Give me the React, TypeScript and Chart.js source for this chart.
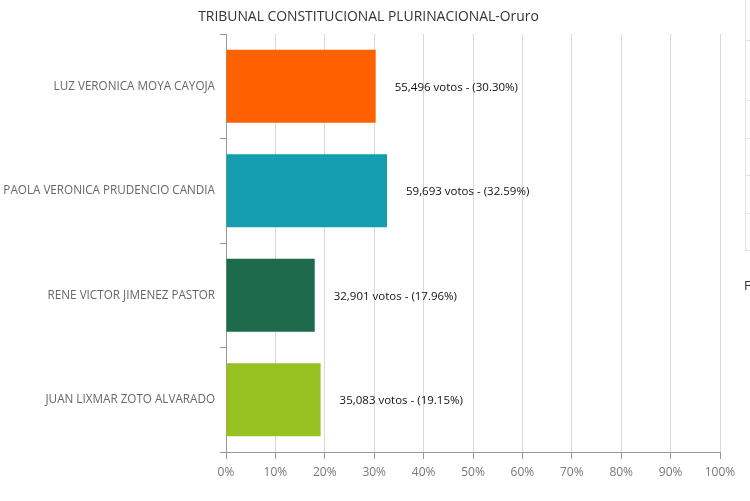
import React, { useEffect, useRef } from "react";
import { Chart, registerables } from "chart.js";

Chart.register(...registerables);

const TITLE = "TRIBUNAL CONSTITUCIONAL PLURINACIONAL-Oruro";
const categories = [
  "LUZ VERONICA MOYA CAYOJA",
  "PAOLA VERONICA PRUDENCIO CANDIA",
  "RENE VICTOR JIMENEZ PASTOR",
  "JUAN LIXMAR ZOTO ALVARADO",
];
const percents = [30.3, 32.59, 17.96, 19.15];
const votes = ["55,496", "59,693", "32,901", "35,083"];
const colors = ["#ff6000", "#159db0", "#1d6a4c", "#98c122"];
const xTicks = [0, 10, 20, 30, 40, 50, 60, 70, 80, 90, 100];

const FONT = "'Open Sans', 'Noto Sans', sans-serif";

const valueLabels = {
  id: "valueLabels",
  afterDatasetsDraw(chart: any) {
    const ctx = chart.ctx;
    const meta = chart.getDatasetMeta(0);
    ctx.save();
    ctx.font = `11.5px ${FONT}`;
    ctx.fillStyle = "#111";
    ctx.textBaseline = "middle";
    ctx.textAlign = "left";
    meta.data.forEach((bar: any, i: number) => {
      const txt = `${votes[i]} votos - (${percents[i].toFixed(2)}%)`;
      ctx.fillText(txt, bar.x + 19, bar.y + 1);
    });
    ctx.restore();
  },
};

const titlePlugin = {
  id: "customTitle",
  afterDraw(chart: any) {
    const ctx = chart.ctx;
    ctx.save();
    ctx.font = `13.9px ${FONT}`;
    ctx.fillStyle = "#333";
    ctx.textAlign = "center";
    ctx.textBaseline = "middle";
    ctx.fillText(TITLE, 368.5, 17);
    ctx.restore();
  },
};

export default function App() {
  const ref = useRef<HTMLCanvasElement>(null);
  useEffect(() => {
    document.body.style.margin = "0";
    const chart = new Chart(ref.current!, {
      type: "bar",
      data: {
        labels: categories,
        datasets: [
          {
            data: percents,
            backgroundColor: colors,
            barPercentage: 0.7,
            categoryPercentage: 1,
          },
        ],
      },
      options: {
        indexAxis: "y",
        animation: false,
        responsive: false,
        layout: { padding: { top: 34, right: 30, bottom: 0, left: 0 } },
        plugins: {
          legend: { display: false },
          tooltip: { enabled: false },
          title: { display: false },
        },
        scales: {
          x: {
            min: 0,
            max: 100,
            afterBuildTicks(scale: any) {
              scale.ticks = xTicks.map((v) => ({ value: v }));
            },
            afterFit(scale: any) {
              scale.height = 49;
            },
            grid: {
              color: "#d9d9d9",
              tickColor: "#999",
              tickLength: 7,
            },
            border: { color: "#999" },
            ticks: {
              color: "#777",
              padding: 6,
              font: { family: FONT, size: 12 },
              callback: (v: any) => `${v}%`,
            },
          },
          y: {
            afterFit(scale: any) {
              scale.width = 226;
            },
            grid: {
              offset: true,
              drawOnChartArea: false,
              tickColor: "#999",
              tickLength: 6,
            },
            border: { color: "#999" },
            ticks: {
              color: "#666",
              padding: 5,
              font: { family: FONT, size: 11.7 },
            },
          },
        },
      },
      plugins: [valueLabels, titlePlugin],
    });
    return () => chart.destroy();
  }, []);

  const hLines = [40, 100, 138, 175, 213, 250];
  return (
    <div style={{ position: "relative", width: 750, height: 501, overflow: "hidden", background: "#fff" }}>
      <canvas ref={ref} width={750} height={501} style={{ position: "absolute", left: 0, top: 0 }} />
      <div style={{ position: "absolute", left: 745, top: 0, width: 1, height: 250, background: "#e3e3e3" }} />
      {hLines.map((y) => (
        <div key={y} style={{ position: "absolute", left: 745, top: y, width: 5, height: 1, background: "#e3e3e3" }} />
      ))}
      <div style={{ position: "absolute", left: 744, top: 276, fontFamily: FONT, fontSize: 13, color: "#333" }}>F</div>
    </div>
  );
}
